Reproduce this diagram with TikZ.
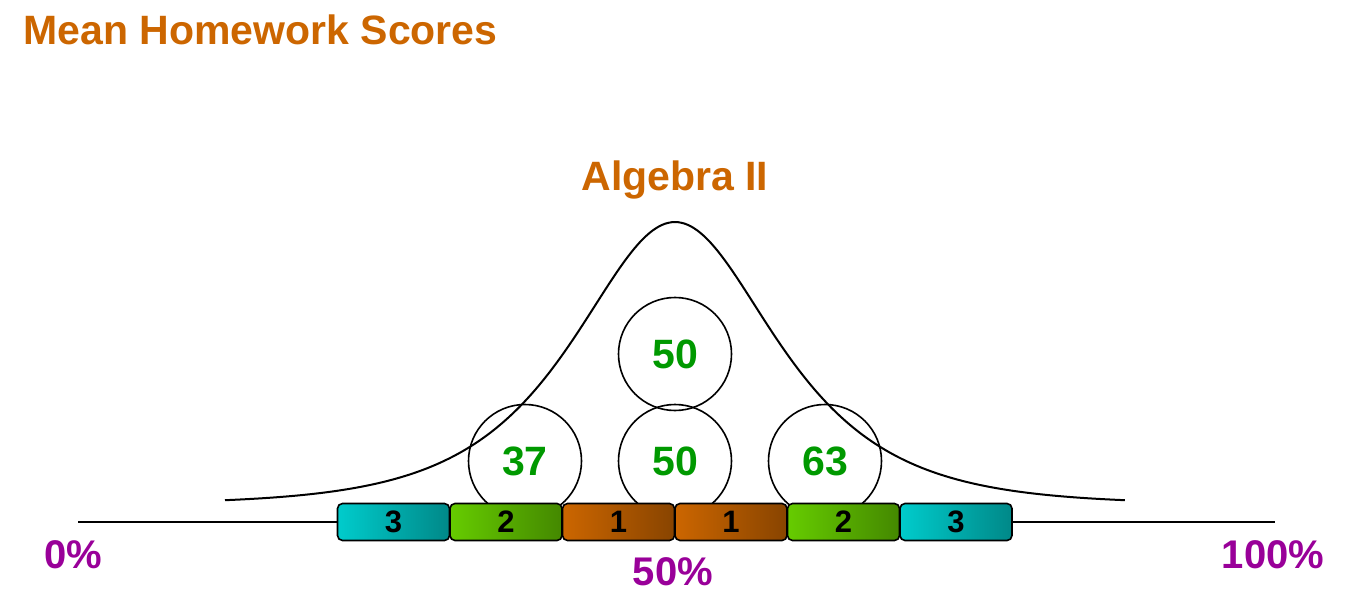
\documentclass[tikz,border=0pt]{standalone}
\usepackage{fontspec}
\setmainfont{Liberation Sans}
\begin{document}
\begin{tikzpicture}[x=1pt,y=-1pt,
  ttl/.style={text=orange!80!black, font=\bfseries\fontsize{41}{44}\selectfont},
  pct/.style={font=\bfseries\fontsize{40}{44}\selectfont},
  circ/.style={circle, draw, line width=1.6pt, minimum size=113pt, inner sep=0pt, text=green!60!black, font=\bfseries\fontsize{41}{44}\selectfont},
  seg/.style={draw, line width=1.6pt, rounded corners=5pt, minimum width=112pt, minimum height=37pt, inner sep=0pt, font=\bfseries\fontsize{31}{33}\selectfont}]
\definecolor{pur}{HTML}{990099}
\definecolor{tlA}{HTML}{00CCCC}\definecolor{tlB}{HTML}{008888}
\definecolor{grA}{HTML}{66CC00}\definecolor{grB}{HTML}{448800}
\definecolor{orA}{HTML}{CC6600}\definecolor{orB}{HTML}{884400}
\useasboundingbox (0,0) rectangle (1352,596);
\node[ttl, anchor=west] (title) at (20,30) {Mean Homework Scores};
\node[ttl] (alg) at (675,180) {Algebra II};
\draw[line width=2pt] plot[domain=-5:5, samples=140, smooth] ({675+90*\x},{504-282*2/(exp(\x)+exp(-\x))});
\draw[line width=2pt] (78,522) coordinate (l) -- (1275,522) coordinate (r);
\node[circ] (c1) at (525,461) {37};
\node[circ] (c2) at (675,461) {50};
\node[circ] (c3) at (825,461) {63};
\node[circ] (c4) at (675,354) {50};
\foreach \i/\l/\a/\b in {0/3/tlA/tlB,1/2/grA/grB,2/1/orA/orB,3/1/orA/orB,4/2/grA/grB,5/3/tlA/tlB}{
  \node[seg, left color=\a, right color=\b] (s\i) at ({393.5+\i*112.5},522) {\l};
}
\node[pct, text=pur] (p0) at (73,555) {0\%};
\node[pct, text=pur] (p50) at (673,572) {50\%};
\node[pct, text=pur] (p100) at (1273,555) {100\%};
\end{tikzpicture}
\end{document}
